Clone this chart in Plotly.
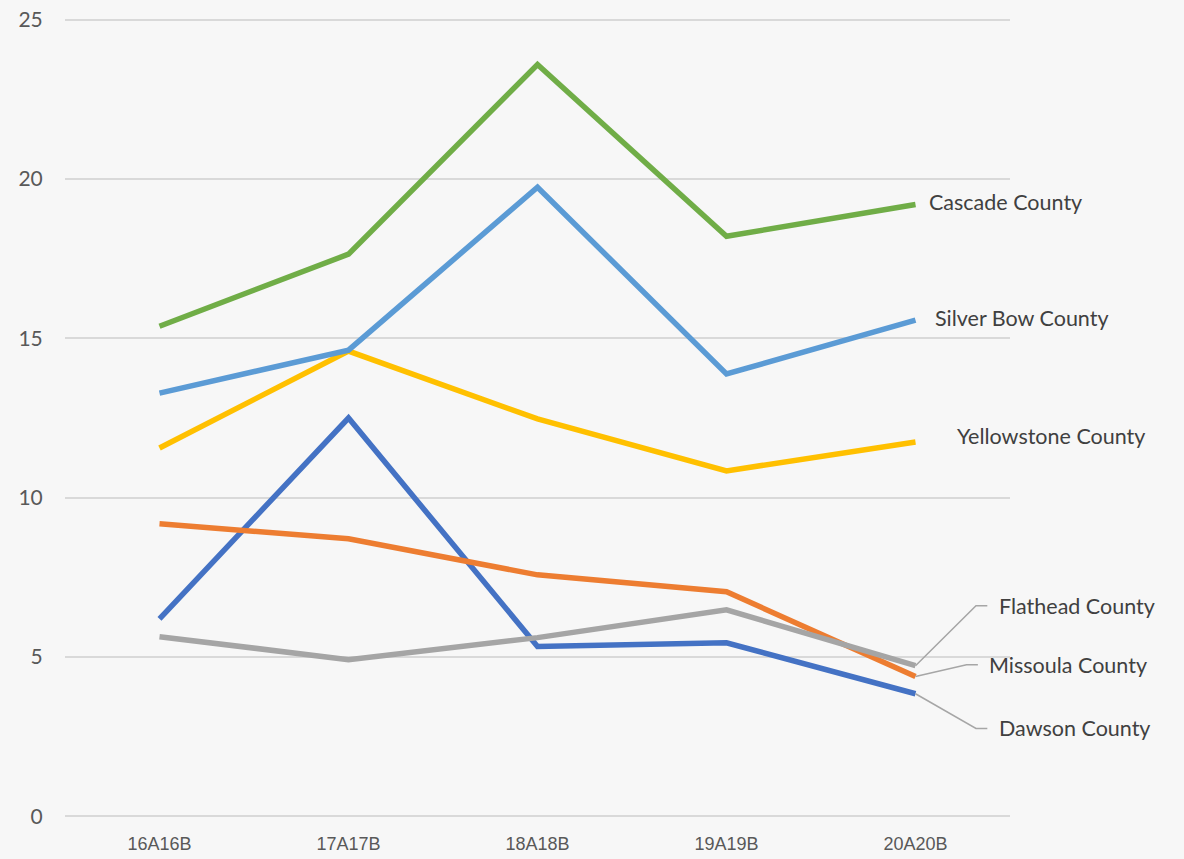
import plotly.graph_objects as go

categories = ["16A16B", "17A17B", "18A18B", "19A19B", "20A20B"]
dawson = [6.20, 12.50, 5.33, 5.45, 3.85]
missoula = [9.18, 8.71, 7.58, 7.05, 4.39]
flathead = [5.64, 4.92, 5.61, 6.48, 4.73]
yellowstone = [11.56, 14.60, 12.47, 10.84, 11.75]
silver_bow = [13.28, 14.63, 19.74, 13.88, 15.57]
cascade = [15.38, 17.64, 23.59, 18.20, 19.20]

series = [
    ("Dawson County", dawson, "#4472C4"),
    ("Missoula County", missoula, "#ED7D31"),
    ("Flathead County", flathead, "#A5A5A5"),
    ("Yellowstone County", yellowstone, "#FFC000"),
    ("Silver Bow County", silver_bow, "#5B9BD5"),
    ("Cascade County", cascade, "#70AD47"),
]

xi = list(range(len(categories)))
fig = go.Figure()
for name, vals, col in series:
    fig.add_trace(go.Scatter(x=xi, y=vals, mode="lines", name=name,
                             line=dict(color=col, width=5.5), showlegend=False))

last = len(categories) - 1
label_pos = {
    "Cascade County": (0.06, 19.27, False),
    "Silver Bow County": (0.09, 15.63, False),
    "Yellowstone County": (0.21, 11.94, False),
    "Flathead County": (0.43, 6.61, True),
    "Missoula County": (0.38, 4.76, True),
    "Dawson County": (0.43, 2.76, True),
}
elbow = {"Flathead County": (0.32, 0.38), "Missoula County": (0.27, 0.33), "Dawson County": (0.32, 0.38)}
lab_font = dict(family="Lato, Open Sans, sans-serif", size=21.5, color="#404040")
for name, vals, col in series:
    dx, ly, lead = label_pos[name]
    if lead:
        ex, hx = elbow[name]
        fig.add_trace(go.Scatter(x=[last, last + ex, last + hx], y=[vals[-1], ly, ly],
                                 mode="lines", line=dict(color="#A6A6A6", width=1.5),
                                 showlegend=False, hoverinfo="skip", cliponaxis=False))
    fig.add_annotation(x=last + dx, y=ly, xref="x", yref="y", text=name, showarrow=False,
                       xanchor="left", yanchor="middle", font=lab_font)

fig.update_layout(
    width=1184, height=859,
    margin=dict(l=65, r=174, t=16.5, b=39.5),
    paper_bgcolor="#F7F7F7", plot_bgcolor="#F7F7F7",
    showlegend=False,
)
fig.update_xaxes(tickmode="array", tickvals=xi, ticktext=categories, range=[-0.5, 4.5],
                 showgrid=False, zeroline=False, showline=False, automargin=False,
                 tickfont=dict(family="Liberation Sans, Arial, sans-serif", size=18, color="#595959"),
                 ticks="outside", ticklen=8.5, tickcolor="rgba(0,0,0,0)")
fig.update_yaxes(range=[-0.08, 25.08], dtick=5, tick0=0, showgrid=True, gridcolor="#D9D9D9", gridwidth=1.5,
                 zeroline=False, showline=False, automargin=False,
                 tickfont=dict(family="Lato, Open Sans, sans-serif", size=21, color="#595959"),
                 ticks="outside", ticklen=17, tickcolor="rgba(0,0,0,0)")
fig.write_html("out.html", config={"displayModeBar": False},
               post_script="document.body.style.margin='0';document.body.style.overflow='hidden';")
